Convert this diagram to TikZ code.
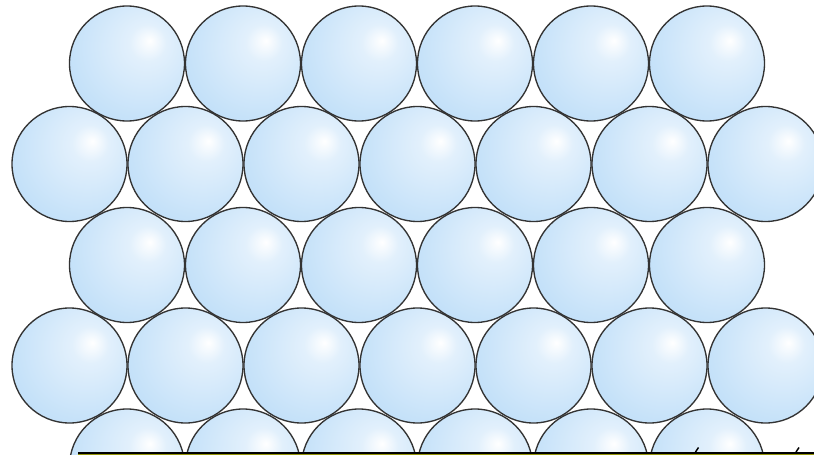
\documentclass[tikz,border=0pt]{standalone}
\definecolor{ballA}{RGB}{226,240,252}
\definecolor{ballB}{RGB}{198,226,249}
\definecolor{ballC}{RGB}{164,206,243}
\definecolor{barcol}{RGB}{150,150,10}
\pgfdeclareradialshading{ballshade}{\pgfpoint{10bp}{10bp}}{%
  color(0bp)=(white);
  color(8bp)=(ballA);
  color(30bp)=(ballB);
  color(62bp)=(ballC);
  color(80bp)=(ballC)}
\tikzset{
  ball/.style={draw=black!80, line width=1.35pt, shading=ballshade},
}
\begin{document}
\begin{tikzpicture}[x=1pt,y=-1pt]
\useasboundingbox (0,0) rectangle (814,455);
\fill[white] (0,0) rectangle (814,455);
\begin{scope}
\clip (0,0) rectangle (814,455);
% rows with x offset 127
\foreach \y in {63.5,265,466.5}{
  \foreach \k in {0,...,5}{
    \path[ball] ({127+116*\k},\y) circle (57.5);
  }
}
% rows with x offset 69
\foreach \y in {164,365.5}{
  \foreach \k in {0,...,6}{
    \path[ball] ({69.5+116*\k},\y) circle (57.5);
  }
}
\end{scope}
% bottom bar
\fill[barcol] (78,452) rectangle (814,455);
\fill[black] (78,451.8) rectangle (814,454.2);
% clipped accent marks
\draw[black, line width=1.5pt] (695.5,452) -- (698.5,447.5);
\draw[black, line width=1.5pt] (796,452) -- (799,447.5);
\end{tikzpicture}
\end{document}
